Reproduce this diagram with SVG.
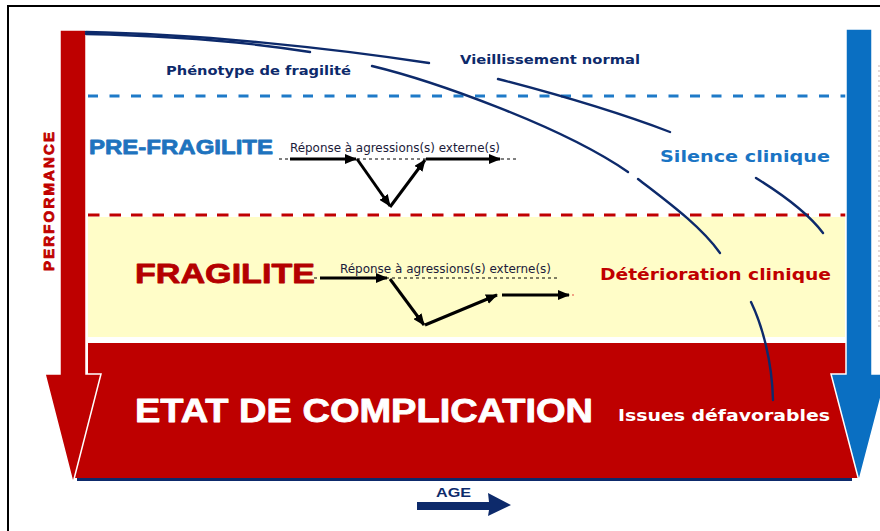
<svg xmlns="http://www.w3.org/2000/svg" width="880" height="531" viewBox="0 0 880 531">
  <defs>
    <style>
      .navy { fill: #0d2a6b; }
      .curve { fill: none; stroke: #0d2a6b; stroke-width: 2.4; stroke-linecap: round; }
      .resp { fill: none; stroke: #000; stroke-width: 3; }
      .dot { fill: none; stroke: #000; stroke-width: 1; stroke-dasharray: 3 3; }
      .verd { font-family: "DejaVu Sans", Verdana, sans-serif; font-weight: bold; }
      .ari { font-family: "Liberation Sans", Arial, sans-serif; font-weight: bold; }
      .heavy { stroke-width: 0.8; stroke-linejoin: round; }
      .narrow { font-family: "Liberation Sans Narrow", "DejaVu Sans Condensed", "Liberation Sans", sans-serif; font-size: 12px; fill: #1b1b3a; }
    </style>
    <marker id="ah" viewBox="0 0 12 10" markerWidth="12" markerHeight="10" refX="11" refY="5" orient="auto" markerUnits="userSpaceOnUse">
      <path d="M0,0 L12,5 L0,10 z" fill="#000"/>
    </marker>
  </defs>

  <rect x="0" y="0" width="880" height="531" fill="#ffffff"/>
  <!-- frame -->
  <path d="M8,531 V6 H880" fill="none" stroke="#000" stroke-width="2"/>
  <line x1="879" y1="65" x2="879" y2="330" stroke="#c9b3b3" stroke-width="1" stroke-dasharray="2 3"/>

  <!-- bands -->
  <g id="band-fragilite">
    <rect x="88" y="217" width="757" height="120" fill="#fffdc8"/>
  </g>
  <g id="band-complication">
    <polygon points="88,343 846,343 846,374 859,478 73,478 88,374" fill="#be0000"/>
    <line x1="77" y1="479.5" x2="852" y2="479.5" stroke="#0d2a6b" stroke-width="3"/>
  </g>

  <g id="thresholds">
    <line x1="88" y1="96" x2="846" y2="96" stroke="#1e7ac8" stroke-width="2.8" stroke-dasharray="10 11.5"/>
    <line x1="88" y1="215" x2="846" y2="215" stroke="#c00000" stroke-width="2.8" stroke-dasharray="11.5 10"/>
  </g>

  <!-- big arrows -->
  <g id="performance-arrow">
    <polygon points="60,30 86,30 86,374 101,374 73,483 45,374 60,374" fill="#be0000" stroke="#ffffff" stroke-width="1.5" stroke-linejoin="miter"/>
    <text class="ari heavy" x="0" y="0" font-size="15" fill="#c00000" stroke="#c00000" stroke-width="0.5" transform="translate(54,271) rotate(-90)" textLength="139" lengthAdjust="spacing">PERFORMANCE</text>
  </g>
  <g id="severity-arrow">
    <polygon points="846,29 872,29 872,374 887,374 859,481 831,374 846,374" fill="#0a6fc2" stroke="#ffffff" stroke-width="1.5"/>
  </g>

  <!-- connectors: trajectories -->
  <g id="connectors">
    <path class="curve" d="M86,32 C200,34 330,48 429,63"/>
    <path class="curve" d="M498,79 C560,95 620,113 670,132"/>
    <path class="curve" d="M756,178 C785,196 808,213 823,233"/>
    <path class="curve" d="M86,34 C180,36 260,44 310,52"/>
    <path class="curve" d="M372,66 C430,80 560,125 628,172"/>
    <path class="curve" d="M638,179 C665,200 700,225 720,253"/>
    <path class="curve" d="M751,302 C762,325 772,360 773,400"/>
  </g>

  <!-- labels -->
  <g id="label-phenotype">
    <text class="verd navy" x="166" y="75" font-size="13" textLength="185" lengthAdjust="spacingAndGlyphs">Phénotype de fragilité</text>
  </g>
  <g id="label-vieillissement">
    <text class="verd navy" x="460" y="64" font-size="13" textLength="180" lengthAdjust="spacingAndGlyphs">Vieillissement normal</text>
  </g>
  <g id="label-prefragilite">
    <text class="ari heavy" x="89" y="154" font-size="21" fill="#1e73be" stroke="#1e73be" textLength="184" lengthAdjust="spacingAndGlyphs">PRE-FRAGILITE</text>
  </g>
  <g id="label-silence">
    <text class="verd" x="660" y="162" font-size="16.5" fill="#1a74c4" textLength="170" lengthAdjust="spacingAndGlyphs">Silence clinique</text>
  </g>
  <g id="label-fragilite">
    <text class="ari heavy" x="135" y="283" font-size="28" fill="#b40000" stroke="#b40000" stroke-width="1" textLength="180" lengthAdjust="spacingAndGlyphs">FRAGILITE</text>
  </g>
  <g id="label-deterioration">
    <text class="verd" x="600" y="280" font-size="16.5" fill="#c00000" textLength="231" lengthAdjust="spacingAndGlyphs">Détérioration clinique</text>
  </g>
  <g id="label-complication">
    <text class="ari heavy" x="135" y="422" font-size="33" fill="#ffffff" stroke="#ffffff" stroke-width="1" textLength="458" lengthAdjust="spacingAndGlyphs">ETAT DE COMPLICATION</text>
  </g>
  <g id="label-issues">
    <text class="verd" x="618" y="421" font-size="16.5" fill="#ffffff" textLength="212" lengthAdjust="spacingAndGlyphs">Issues défavorables</text>
  </g>

  <!-- response to external aggressions: pre-frailty -->
  <g id="response-prefragilite">
    <line class="dot" x1="279" y1="159" x2="518" y2="159"/>
    <text class="narrow" x="290" y="152" textLength="210" lengthAdjust="spacingAndGlyphs">Réponse à agressions(s) externe(s)</text>
    <line class="resp" x1="290" y1="159" x2="356" y2="159" marker-end="url(#ah)"/>
    <line class="resp" x1="357" y1="159" x2="390" y2="206" marker-end="url(#ah)"/>
    <line class="resp" x1="390" y1="207" x2="425" y2="160" marker-end="url(#ah)"/>
    <line class="resp" x1="426" y1="159" x2="500" y2="159" marker-end="url(#ah)"/>
  </g>

  <!-- response to external aggressions: frailty -->
  <g id="response-fragilite">
    <line class="dot" x1="314" y1="278" x2="560" y2="278"/>
    <text class="narrow" x="340" y="273" textLength="211" lengthAdjust="spacingAndGlyphs">Réponse à agressions(s) externe(s)</text>
    <line class="resp" x1="320" y1="278" x2="387" y2="278" marker-end="url(#ah)"/>
    <line class="resp" x1="390" y1="279" x2="424" y2="325" marker-end="url(#ah)"/>
    <line class="resp" x1="425" y1="325" x2="497" y2="295" marker-end="url(#ah)"/>
    <line class="resp" x1="502" y1="295" x2="569" y2="295" marker-end="url(#ah)"/>
    <circle cx="573" cy="295" r="0.8" fill="#e03030"/>
  </g>

  <!-- age axis -->
  <g id="age-arrow">
    <text class="ari navy" x="436" y="497" font-size="13" textLength="35" lengthAdjust="spacingAndGlyphs">AGE</text>
    <polygon points="417,502 489,502 488,493 511,505 488,516 489,510 417,510" fill="#0d2a6b"/>
  </g>
</svg>
